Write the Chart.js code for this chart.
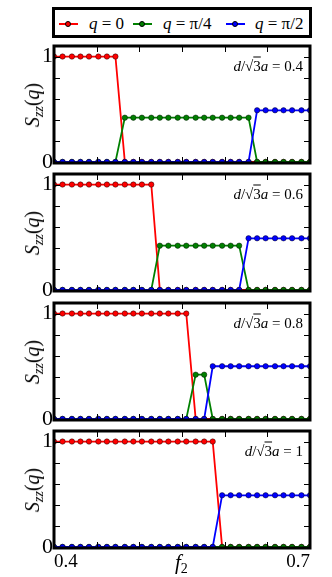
<!DOCTYPE html>
<html>
<head>
<meta charset="utf-8">
<script src="https://cdn.jsdelivr.net/npm/chart.js@4"></script>
<style>
  html, body { margin: 0; padding: 0; background: #fff; overflow: hidden; }
  #wrap { position: relative; width: 332px; height: 577px; font-family: "Liberation Serif", serif; }
  canvas { position: absolute; left: 0; }
  .txt { position: absolute; white-space: nowrap; color: #000; line-height: 1; }
  .ylab { font-size: 20px; transform: translate(-50%, -50%) rotate(-90deg); }
  .ylab sub { font-size: 14px; vertical-align: -4px; line-height: 0; }
  .note { font-size: 15px; transform: translateY(-50%); }
  .ov { text-decoration: overline; }
  #legend { position: absolute; left: 52px; top: 7px; width: 260px; height: 31px; border: 3px solid #000; box-sizing: border-box; }
  .mk { position: absolute; height: 2px; width: 19px; top: 13px; }
  .dot { position: absolute; width: 6px; height: 6px; border-radius: 50%; top: -2.5px; left: 6px; box-sizing: border-box; border: 0.6px solid #000; }
  .lt { position: absolute; top: 5px; font-size: 17px; }
</style>
</head>
<body>
<div id="wrap">
  <div id="legend">
    <div class="mk" style="left:4px;background:#ff0000"><div class="dot" style="background:#ff0000"></div></div>
    <div class="txt lt" style="left:34px"><i>q</i> = 0</div>
    <div class="mk" style="left:78px;background:#008000"><div class="dot" style="background:#008000"></div></div>
    <div class="txt lt" style="left:108px"><i>q</i> = π/4</div>
    <div class="mk" style="left:171px;background:#0000ff"><div class="dot" style="background:#0000ff"></div></div>
    <div class="txt lt" style="left:200px"><i>q</i> = π/2</div>
  </div>
</div>
<script>
// f2 grid (30 points from 0.4 to 0.7)
const f2 = [0.400, 0.410, 0.421, 0.431, 0.441, 0.452, 0.462, 0.472, 0.483, 0.493,
            0.503, 0.514, 0.524, 0.534, 0.545, 0.555, 0.566, 0.576, 0.586, 0.597,
            0.607, 0.617, 0.628, 0.638, 0.648, 0.659, 0.669, 0.679, 0.690, 0.700];

const dLabels = ["0.4", "0.6", "0.8", "1"];

// d/sqrt(3)a = 0.4
const q0_d04   = [1,1,1,1,1,1,1,1,0,0, 0,0,0,0,0,0,0,0,0,0, 0,0,0,0,0,0,0,0,0,0];
const qPi4_d04 = [0,0,0,0,0,0,0,0,0.42,0.42, 0.42,0.42,0.42,0.42,0.42,0.42,0.42,0.42,0.42,0.42, 0.42,0.42,0.42,0,0,0,0,0,0,0];
const qPi2_d04 = [0,0,0,0,0,0,0,0,0,0, 0,0,0,0,0,0,0,0,0,0, 0,0,0,0.49,0.49,0.49,0.49,0.49,0.49,0.49];

// d/sqrt(3)a = 0.6
const q0_d06   = [1,1,1,1,1,1,1,1,1,1, 1,1,0,0,0,0,0,0,0,0, 0,0,0,0,0,0,0,0,0,0];
const qPi4_d06 = [0,0,0,0,0,0,0,0,0,0, 0,0,0.42,0.42,0.42,0.42,0.42,0.42,0.42,0.42, 0.42,0.42,0,0,0,0,0,0,0,0];
const qPi2_d06 = [0,0,0,0,0,0,0,0,0,0, 0,0,0,0,0,0,0,0,0,0, 0,0,0.49,0.49,0.49,0.49,0.49,0.49,0.49,0.49];

// d/sqrt(3)a = 0.8
const q0_d08   = [1,1,1,1,1,1,1,1,1,1, 1,1,1,1,1,1,0,0,0,0, 0,0,0,0,0,0,0,0,0,0];
const qPi4_d08 = [0,0,0,0,0,0,0,0,0,0, 0,0,0,0,0,0,0.42,0.42,0,0, 0,0,0,0,0,0,0,0,0,0];
const qPi2_d08 = [0,0,0,0,0,0,0,0,0,0, 0,0,0,0,0,0,0,0,0.5,0.5, 0.5,0.5,0.5,0.5,0.5,0.5,0.5,0.5,0.5,0.5];

// d/sqrt(3)a = 1
const q0_d10   = [1,1,1,1,1,1,1,1,1,1, 1,1,1,1,1,1,1,1,1,0, 0,0,0,0,0,0,0,0,0,0];
const qPi4_d10 = [0,0,0,0,0,0,0,0,0,0, 0,0,0,0,0,0,0,0,0,0, 0,0,0,0,0,0,0,0,0,0];
const qPi2_d10 = [0,0,0,0,0,0,0,0,0,0, 0,0,0,0,0,0,0,0,0,0.49, 0.49,0.49,0.49,0.49,0.49,0.49,0.49,0.49,0.49,0.49];

const xTickLabels = [0.4, 0.7];
const yTickLabels = [0, 1];
const xMinorTicks = [0.45, 0.5, 0.55, 0.6, 0.65];
const yMinorTicks = [0.2, 0.4, 0.6, 0.8, 1.0];

const panels = [
  [q0_d04, qPi4_d04, qPi2_d04],
  [q0_d06, qPi4_d06, qPi2_d06],
  [q0_d08, qPi4_d08, qPi2_d08],
  [q0_d10, qPi4_d10, qPi2_d10]
];

const panelTops = [46, 174, 303, 431];
const panelH = 117;
const colors = ["#ff0000", "#008000", "#0000ff"];

const framePlugin = {
  id: "frame",
  afterDatasetsDraw(chart) {
    const { ctx, chartArea: a, scales: { x, y } } = chart;
    ctx.save();
    ctx.strokeStyle = "#000";
    ctx.lineWidth = 1;
    ctx.beginPath();
    xMinorTicks.forEach(v => {
      const px = Math.round(x.getPixelForValue(v)) + 0.5;
      ctx.moveTo(px, a.top); ctx.lineTo(px, a.top + 6);
      ctx.moveTo(px, a.bottom); ctx.lineTo(px, a.bottom - 6);
    });
    yMinorTicks.forEach(v => {
      const py = Math.round(y.getPixelForValue(v)) + 0.5;
      ctx.moveTo(a.left, py); ctx.lineTo(a.left + 6, py);
      ctx.moveTo(a.right, py); ctx.lineTo(a.right - 6, py);
    });
    ctx.stroke();
    ctx.lineWidth = 3;
    ctx.strokeRect(a.left, a.top, a.right - a.left, a.bottom - a.top);
    ctx.restore();
  }
};

const wrap = document.getElementById("wrap");

panels.forEach((series, i) => {
  const bottom = i === panels.length - 1;
  const cv = document.createElement("canvas");
  const top = panelTops[i] - 20;
  const h = bottom ? 577 - top : panelH + 40;
  cv.width = 332; cv.height = h;
  cv.style.top = top + "px";
  wrap.appendChild(cv);

  new Chart(cv, {
    type: "line",
    data: {
      datasets: series.map((vals, k) => ({
        data: f2.map((x, j) => ({ x: x, y: vals[j] })),
        borderColor: colors[k],
        backgroundColor: colors[k],
        pointBackgroundColor: colors[k],
        pointBorderColor: "rgba(0,0,0,0.75)",
        pointBorderWidth: 0.6,
        pointRadius: 2.7,
        borderWidth: 1.8,
        tension: 0,
        order: 2 - k
      }))
    },
    options: {
      responsive: false,
      animation: false,
      devicePixelRatio: 1,
      layout: { padding: { top: 20, bottom: bottom ? 0 : 20, left: 0, right: 22 } },
      plugins: { legend: { display: false }, tooltip: { enabled: false } },
      scales: {
        x: {
          type: "linear",
          min: 0.4, max: 0.7,
          display: bottom,
          grid: { display: false, drawTicks: false },
          border: { display: false },
          afterBuildTicks: s => { s.ticks = xTickLabels.map(v => ({ value: v })); },
          afterFit: s => { if (bottom) s.height = 29; },
          ticks: {
            align: "inner",
            maxRotation: 0,
            padding: 3,
            color: "#000",
            font: { family: "Liberation Serif", size: 19 }
          }
        },
        y: {
          min: -0.01, max: 1.1,
          grid: { display: false, drawTicks: false },
          border: { display: false },
          afterBuildTicks: s => { s.ticks = yTickLabels.map(v => ({ value: v })); },
          afterFit: s => { s.width = 54; },
          ticks: {
            padding: 1,
            color: "#000",
            font: { family: "Liberation Serif", size: 22, lineHeight: 1 }
          }
        }
      }
    },
    plugins: [framePlugin]
  });

  const yl = document.createElement("div");
  yl.className = "txt ylab";
  yl.style.left = "32px";
  yl.style.top = (panelTops[i] + panelH / 2) + "px";
  yl.innerHTML = "<i>S</i><sub><i>zz</i></sub>(<i>q</i>)";
  wrap.appendChild(yl);

  const nt = document.createElement("div");
  nt.className = "txt note";
  nt.style.right = "29px";
  nt.style.top = (panelTops[i] + 20) + "px";
  nt.innerHTML = '<i>d</i>/√<span class="ov">3</span><i>a</i> = ' + dLabels[i];
  wrap.appendChild(nt);
});

const xt = document.createElement("div");
xt.className = "txt";
xt.style.cssText = "left:175px;top:552px;font-size:21px;";
xt.innerHTML = '<i>f</i><sub style="font-size:14px;vertical-align:-4px;line-height:0">2</sub>';
wrap.appendChild(xt);
</script>
</body>
</html>
